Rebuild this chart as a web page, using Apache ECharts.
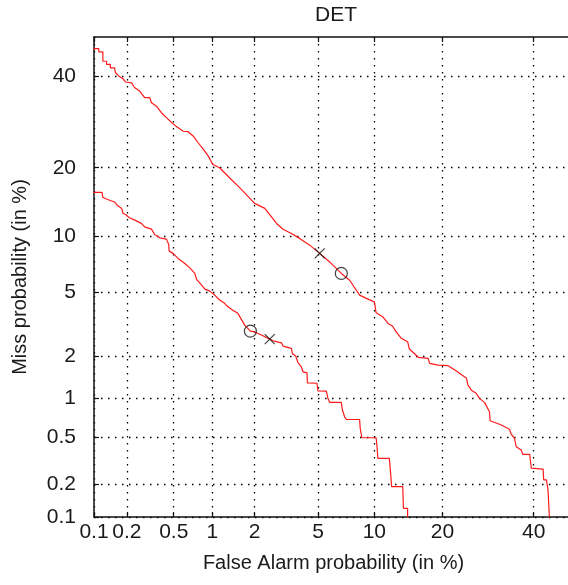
<!DOCTYPE html>
<html>
<head>
<meta charset="utf-8">
<script src="https://cdn.jsdelivr.net/npm/echarts@6/dist/echarts.min.js"></script>
<style>html,body{margin:0;padding:0;background:#fff;}#c{width:568px;height:585px;}</style>
</head>
<body>
<div id="c"></div>
<script>
// ---- data (percent) ----
const tickValues = [0.1, 0.2, 0.5, 1, 2, 5, 10, 20, 40];
const tickLabels = ['0.1', '0.2', '0.5', '1', '2', '5', '10', '20', '40'];

const upperFa = [0.09,0.111,0.111,0.121,0.121,0.131,0.131,0.142,0.142,0.155,0.158,0.170,0.185,0.195,0.220,0.235,0.259,0.286,0.316,0.327,0.360,0.396,0.436,0.480,0.526,0.595,0.651,0.713,0.780,0.852,0.929,1.008,1.13,1.34,1.575,2.0,2.34,2.79,3.07,3.46,3.89,4.47,5.11,5.82,6.75,7.48,8.43,9.12,10.0,10.2,10.2,10.97,11.64,12.2,12.7,13.4,14.3,14.55,15.3,15.9,17.5,17.75,19.2,20.95,22.3,23.2,24.6,24.9,25.6,26.6,27.3,28.4,29.5,29.65,32.2,34.1,34.5,35.3,35.7,36.9,37.3,39.0,39.4,42.35,42.5,43.2,43.6,44.0,44.0];
const upperMiss = [47.0,47.0,46.2,46.2,43.8,43.8,43.0,43.0,42.1,42.1,40.9,40.05,39.4,38.6,38.4,37.2,36.4,34.8,34.8,33.6,32.8,31.3,30.2,29.1,28.2,27.2,27.1,26.2,24.8,23.5,22.2,20.6,20.0,18.2,16.6,14.2,13.5,11.5,10.8,10.3,9.74,9.01,8.18,7.38,6.40,5.87,4.83,4.62,4.41,4.35,3.79,3.59,3.26,3.14,2.88,2.62,2.49,2.23,2.08,1.96,1.93,1.78,1.73,1.72,1.60,1.52,1.40,1.25,1.15,1.09,1.0,0.933,0.792,0.674,0.625,0.577,0.529,0.488,0.417,0.392,0.361,0.361,0.275,0.27,0.2175,0.2175,0.177,0.177,0.09];

const lowerFa = [0.09,0.119,0.121,0.1395,0.155,0.166,0.180,0.185,0.195,0.209,0.235,0.268,0.286,0.327,0.348,0.384,0.436,0.455,0.459,0.494,0.542,0.614,0.672,0.735,0.758,0.829,0.877,0.957,1.04,1.13,1.23,1.30,1.41,1.53,1.71,1.87,2.0,2.22,2.52,2.65,3.0,3.07,3.46,3.51,3.68,3.80,3.98,4.08,4.31,4.33,4.93,4.99,5.58,5.69,5.82,6.75,6.84,7.03,7.19,8.43,8.49,8.66,10.2,10.3,10.4,11.8,11.95,12.1,13.6,13.7,14.3,14.3];
const lowerMiss = [15.86,15.86,15.08,14.67,14.41,13.85,13.49,12.79,12.66,12.26,11.92,11.51,11.08,10.80,10.18,9.80,9.66,9.08,8.40,8.18,7.70,7.24,6.86,6.40,5.93,5.51,5.23,5.09,4.83,4.52,4.32,4.12,3.93,3.76,3.18,2.917,2.88,2.749,2.588,2.524,2.449,2.331,2.251,2.082,2.0,1.80,1.687,1.556,1.531,1.30,1.29,1.137,1.13,1.0,0.933,0.933,0.816,0.724,0.690,0.690,0.588,0.494,0.494,0.423,0.334,0.334,0.257,0.19,0.19,0.1206,0.1206,0.09];

const crossFa = [5.11, 2.52];
const crossMiss = [8.18, 2.588];
const circleFa = [6.75, 1.87];
const circleMiss = [6.40, 2.917];

// ---- normal deviate (probit) scale ----
function probit(p) {
  const a=[-3.969683028665376e+01,2.209460984245205e+02,-2.759285104469687e+02,1.383577518672690e+02,-3.066479806614716e+01,2.506628277459239e+00];
  const b=[-5.447609879822406e+01,1.615858368580409e+02,-1.556989798598866e+02,6.680131188771972e+01,-1.328068155288572e+01];
  const c=[-7.784894002430293e-03,-3.223964580411365e-01,-2.400758277161838e+00,-2.549732539343734e+00,4.374664141464968e+00,2.938163982698783e+00];
  const d=[7.784695709041462e-03,3.224671290700398e-01,2.445134137142996e+00,3.754408661907416e+00];
  const plow=0.02425, phigh=1-plow;
  if (p < plow) { const q=Math.sqrt(-2*Math.log(p)); return (((((c[0]*q+c[1])*q+c[2])*q+c[3])*q+c[4])*q+c[5])/((((d[0]*q+d[1])*q+d[2])*q+d[3])*q+1); }
  if (p <= phigh) { const q=p-0.5, r=q*q; return (((((a[0]*r+a[1])*r+a[2])*r+a[3])*r+a[4])*r+a[5])*q/(((((b[0]*r+b[1])*r+b[2])*r+b[3])*r+b[4])*r+1); }
  const q=Math.sqrt(-2*Math.log(1-p)); return -(((((c[0]*q+c[1])*q+c[2])*q+c[3])*q+c[4])*q+c[5])/((((d[0]*q+d[1])*q+d[2])*q+d[3])*q+1);
}
const P = v => probit(v / 100);
const pairs = (xs, ys) => xs.map((x, i) => [P(x), P(ys[i])]);

const tickPos = tickValues.map(P);
const axMin = P(0.1), axMax = P(50);
function fmt(v) {
  let best = 0, bd = 1e9;
  tickPos.forEach((t, i) => { const d = Math.abs(t - v); if (d < bd) { bd = d; best = i; } });
  return tickLabels[best];
}

const FONT = 'Liberation Sans, Arial, Helvetica, sans-serif';
const TXT = '#1a1a1a';
const gridLine = { show: true, lineStyle: { color: '#000', width: 1.3, type: [1.5, 5.5] } };
function mkAxis(pos, isMain, name) {
  return {
    type: 'value', position: pos, min: axMin, max: axMax,
    axisLine: { show: true, onZero: false, lineStyle: { color: '#111', width: 1.5 } },
    axisTick: { show: true, inside: true, length: 5, customValues: tickPos, lineStyle: { color: '#111', width: 1.2 } },
    axisLabel: isMain ? { show: true, customValues: tickPos, formatter: fmt, fontSize: 21, fontFamily: FONT, color: TXT,
      margin: (pos === 'left') ? 18 : 5 } : { show: false },
    splitLine: isMain ? gridLine : { show: false },
    name: isMain ? name : '',
    nameLocation: 'middle',
    nameGap: (pos === 'left') ? 64 : 36,
    nameTextStyle: { fontSize: 20, fontFamily: FONT, color: TXT }
  };
}

const chart = echarts.init(document.getElementById('c'), null, { renderer: 'canvas' });
chart.setOption({
  animation: false,
  backgroundColor: '#fff',
  title: { text: 'DET', left: 331, textAlign: 'center', top: 0,
    textStyle: { fontSize: 21, fontWeight: 'normal', fontFamily: FONT, color: TXT } },
  grid: { left: 94, top: 37, width: 479, height: 480, containLabel: false, outerBoundsMode: 'none' },
  xAxis: [ mkAxis('bottom', true, 'False Alarm probability (in %)'), mkAxis('top', false, '') ],
  yAxis: [ mkAxis('left', true, 'Miss probability (in %)'), mkAxis('right', false, '') ],
  series: [
    { type: 'line', data: pairs(upperFa, upperMiss), showSymbol: false, clip: true, z: 3,
      lineStyle: { color: '#ff1a1a', width: 1.2 } },
    { type: 'line', data: pairs(lowerFa, lowerMiss), showSymbol: false, clip: true, z: 3,
      lineStyle: { color: '#ff1a1a', width: 1.2 } },
    { type: 'scatter', data: pairs(circleFa, circleMiss), symbol: 'circle', symbolSize: 12, z: 4,
      itemStyle: { color: 'rgba(0,0,0,0)', borderColor: '#111', borderWidth: 1.2 } },
    { type: 'scatter', data: pairs(crossFa, crossMiss), symbol: 'path://M0,0L10,10M10,0L0,10', symbolSize: 10, z: 4,
      itemStyle: { color: 'none', borderColor: '#111', borderWidth: 1.2 } }
  ]
});
</script>
</body>
</html>
